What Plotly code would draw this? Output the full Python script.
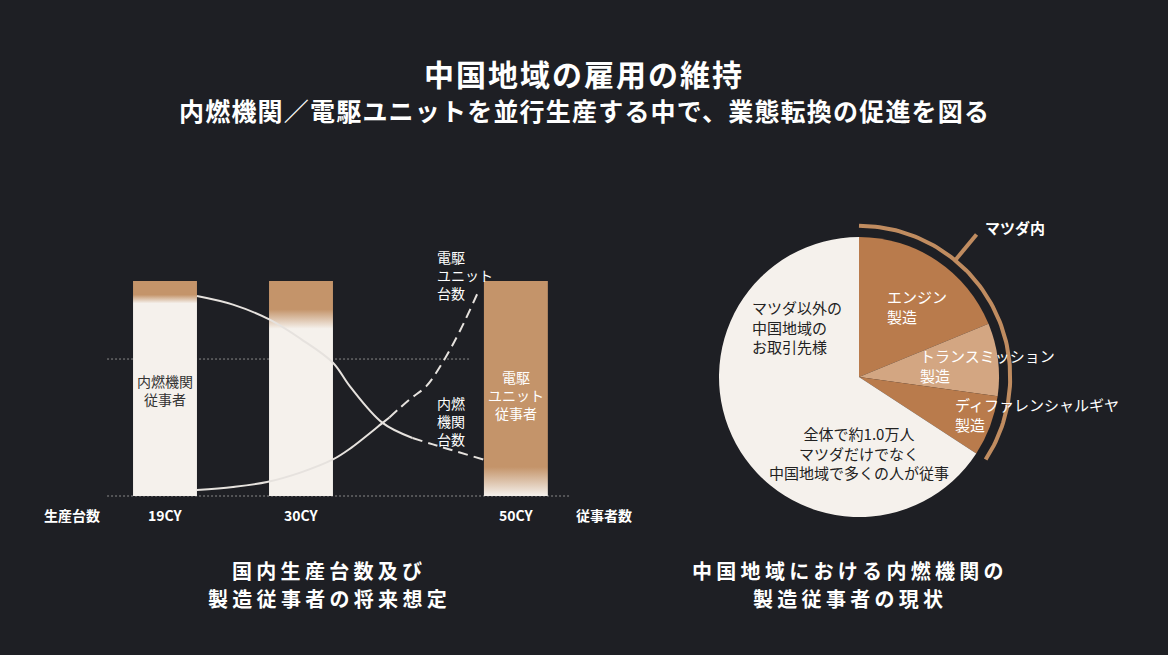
import numpy as np
import plotly.graph_objects as go

# Left panel: domestic production units and workers, outlook
years = ["19CY", "30CY", "50CY"]
year_pos = [0, 1, 2.58]
ev_worker_share = [8.4, 17.7, 93.5]   # % of workers on e-drive units (top of each bar)
fade = [4, 9, 14]                      # gradient softness of each bar

# ICE units (declining) and e-drive units (rising)
ice_x = [0.235, 0.5, 0.77, 1.0, 1.235, 1.36, 1.60, 1.82, 1.97, 2.10, 2.34]
ice_y = [93, 89, 82, 73, 62, 51, 34, 27, 24, 21.5, 17]
ice_split = 7
ev_x = [0.235, 0.5, 0.75, 1.0, 1.235, 1.36, 1.60, 1.65, 1.80, 1.92, 2.04, 2.17, 2.31]
ev_y = [2.8, 4.2, 6.5, 11, 17, 22, 34, 36.5, 45, 51, 62, 77, 96]
ev_split = 7
ref_level = 63.7

# Right panel: ICE manufacturing workers in the Chugoku region
pie_labels = ["エンジン製造", "トランスミッション製造", "ディファレンシャルギヤ製造", "マツダ以外の中国地域のお取引先様"]
pie_values = [18.8, 8.4, 7.0, 65.8]
mazda_slices = 3

BG = "#1e1f24"
CREAM = "#f5f1ec"
TAN = "#c4946a"
FONT = "Noto Sans CJK JP"
bar_w = 0.47

fig = go.Figure()

# bars with vertical gradient
for pos, share, fw in zip(year_pos, ev_worker_share, fade):
    lo = max(0.0, (100 - share - fw / 2) / 100)
    hi = min(1.0, (100 - share + fw / 2) / 100)
    fig.add_trace(go.Scatter(
        x=[pos - bar_w / 2, pos + bar_w / 2, pos + bar_w / 2, pos - bar_w / 2, pos - bar_w / 2],
        y=[0, 0, 100, 100, 0],
        fill="toself", mode="none", hoverinfo="skip",
        fillgradient=dict(type="vertical", start=0, stop=100,
                          colorscale=[[0, CREAM], [lo, CREAM], [hi, TAN], [1, TAN]]),
        xaxis="x", yaxis="y"))

LINE = "#e6e2de"
fig.add_trace(go.Scatter(x=ice_x[:ice_split + 1], y=ice_y[:ice_split + 1], mode="lines",
                         line=dict(color=LINE, width=2, shape="spline"), hoverinfo="skip"))
fig.add_trace(go.Scatter(x=ice_x[ice_split:], y=ice_y[ice_split:], mode="lines",
                         line=dict(color=LINE, width=2, shape="spline", dash="10px,6px"), hoverinfo="skip"))
fig.add_trace(go.Scatter(x=ev_x[:ev_split + 1], y=ev_y[:ev_split + 1], mode="lines",
                         line=dict(color=LINE, width=2, shape="spline"), hoverinfo="skip"))
fig.add_trace(go.Scatter(x=ev_x[ev_split:], y=ev_y[ev_split:], mode="lines",
                         line=dict(color=LINE, width=2, shape="spline", dash="10px,6px"), hoverinfo="skip"))

# pie
fig.add_trace(go.Pie(
    labels=pie_labels, values=pie_values, sort=False, direction="clockwise", rotation=0,
    marker=dict(colors=["#b97b4c", "#d3a682", "#b97b4c", CREAM], line=dict(width=0)),
    textinfo="none", hoverinfo="label+percent", showlegend=False,
    domain=dict(x=[719 / 1168, 999 / 1168], y=[1 - 517 / 655, 1 - 237 / 655])))

# arc marking the Mazda share
mazda_frac = sum(pie_values[:mazda_slices]) / sum(pie_values)
th = np.radians(np.linspace(90, 90 - 360 * mazda_frac, 80))
fig.add_trace(go.Scatter(x=1.08 * np.cos(th), y=1.08 * np.sin(th), mode="lines",
                         line=dict(color="#c08c60", width=4), hoverinfo="skip",
                         xaxis="x2", yaxis="y2"))
tk = np.radians(50.5)
fig.add_trace(go.Scatter(x=[1.08 * np.cos(tk), 1.32 * np.cos(tk)], y=[1.08 * np.sin(tk), 1.32 * np.sin(tk)],
                         mode="lines", line=dict(color="#c08c60", width=4), hoverinfo="skip",
                         xaxis="x2", yaxis="y2"))

shapes = [
    dict(type="line", xref="x", yref="y", x0=-0.426, x1=2.243, y0=ref_level, y1=ref_level,
         line=dict(color="#8a8a8a", width=1, dash="2px,2px"), layer="below"),
    dict(type="line", xref="x", yref="y", x0=-0.426, x1=2.978, y0=0, y1=0,
         line=dict(color="#8a8a8a", width=1, dash="2px,2px"), layer="below"),
]

ann = []
def txt(x, y, text, size=14, color="white", xref="x", yref="y", xanchor="center", align="center",
        bold=False, spacing=0):
    if spacing:
        text = f'<span style="letter-spacing:{spacing}px">{text}</span>'
    if bold:
        text = f"<b>{text}</b>"
    ann.append(dict(x=x, y=y, xref=xref, yref=yref, text=text,
                    showarrow=False, xanchor=xanchor, yanchor="middle", align=align,
                    font=dict(family=FONT, size=size, color=color)))

# titles
txt(0.5, 1 - 73 / 655, "中国地域の雇用の維持", 30, xref="paper", yref="paper", bold=True, spacing=2)
txt(0.5, 1 - 110 / 655, "内燃機関／電駆ユニットを並行生産する中で、業態転換の促進を図る", 25,
    xref="paper", yref="paper", bold=True, spacing=1.2)
for k, line in enumerate(["国内生産台数及び", "製造従事者の将来想定"]):
    txt(329 / 1168, 1 - (570 + 28 * k) / 655, line, 20, xref="paper", yref="paper", bold=True, spacing=4.3)
for k, line in enumerate(["中国地域における内燃機関の", "製造従事者の現状"]):
    txt(850 / 1168, 1 - (570 + 28 * k) / 655, line, 20, xref="paper", yref="paper", bold=True, spacing=4.3)

# left panel labels
for pos, lab in zip(year_pos, years):
    txt(pos, -8.84, lab, 14, bold=True)
txt(-0.684, -8.84, "生産台数", 14, bold=True)
txt(3.228, -8.84, "従事者数", 14, bold=True)
txt(year_pos[0], 49.3, "内燃機関<br>従事者", 14, color="#333333")
txt(year_pos[2], 47, "電駆<br>ユニット<br>従事者", 14)
txt(1.985, 102.8, "電駆<br>ユニット<br>台数", 14, xanchor="left", align="left")
txt(1.985, 34.9, "内燃<br>機関<br>台数", 14, xanchor="left", align="left")

# pie labels
txt(0.186, 0.507, "エンジン<br>製造", 15, xref="x2", yref="y2", xanchor="left", align="left")
txt(0.421, 0.079, "トランスミッション<br>製造", 15, xref="x2", yref="y2", xanchor="left", align="left")
txt(0.671, -0.271, "ディファレンシャルギヤ<br>製造", 15, xref="x2", yref="y2", xanchor="left", align="left")
txt(-0.779, 0.357, "マツダ以外の<br>中国地域の<br>お取引先様", 15, color="#222222",
    xref="x2", yref="y2", xanchor="left", align="left")
txt(0, -0.543, "全体で約1.0万人<br>マツダだけでなく<br>中国地域で多くの人が従事", 15, color="#222222",
    xref="x2", yref="y2")
txt(1.114, 1.071, "マツダ内", 15, xref="x2", yref="y2", bold=True)

hidden = dict(visible=False, showgrid=False, zeroline=False, fixedrange=True)
fig.update_layout(
    width=1168, height=655, margin=dict(l=0, r=0, t=0, b=0),
    paper_bgcolor=BG, plot_bgcolor=BG, showlegend=False,
    xaxis=dict(domain=[0, 0.55], range=[-1.2132, 3.5103], **hidden),
    yaxis=dict(domain=[0.1, 0.9], range=[-43.49, 200.23], **hidden),
    xaxis2=dict(domain=[663 / 1168, 1055 / 1168], range=[-1.4, 1.4], anchor="y2", **hidden),
    yaxis2=dict(domain=[1 - 573 / 655, 1 - 181 / 655], range=[-1.4, 1.4], anchor="x2", **hidden),
    shapes=shapes, annotations=ann,
)

fig.write_html("out.html", config={"displayModeBar": False},
               post_script="document.body.style.margin='0';document.body.style.background='#1e1f24';")
